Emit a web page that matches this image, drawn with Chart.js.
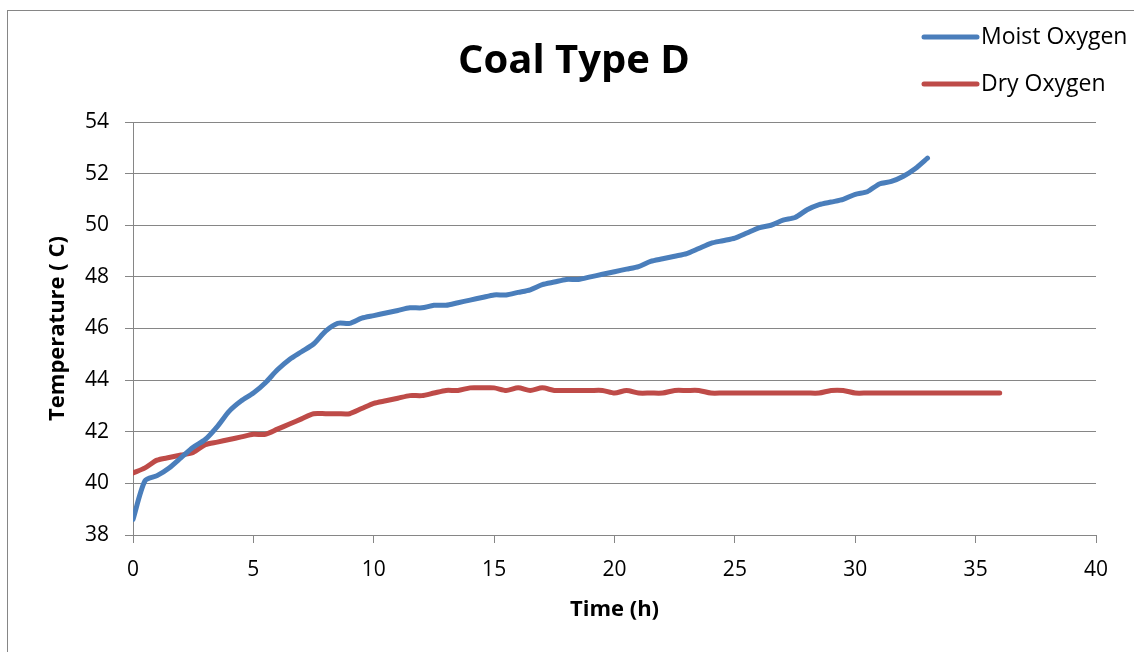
<!DOCTYPE html>
<html>
<head>
<meta charset="utf-8">
<script src="https://cdn.jsdelivr.net/npm/chart.js@4"></script>
<style>
  html, body { margin: 0; padding: 0; background: #fff; }
  #wrap { position: relative; width: 1134px; height: 652px; }
</style>
</head>
<body>
<div id="wrap"><canvas id="c" width="1134" height="652"></canvas></div>
<script>
const chartTitle = "Coal Type D";
const xAxisTitle = "Time (h)";
const yAxisTitle = "Temperature ( C)";
const seriesNames = ["Moist Oxygen", "Dry Oxygen"];

const timeMoist = [0,0.5,1,1.5,2,2.5,3,3.5,4,4.5,5,5.5,6,6.5,7,7.5,8,8.5,9,9.5,
  10,10.5,11,11.5,12,12.5,13,13.5,14,14.5,15,15.5,16,16.5,17,17.5,18,18.5,19,19.5,
  20,20.5,21,21.5,22,22.5,23,23.5,24,24.5,25,25.5,26,26.5,27,27.5,28,28.5,29,29.5,
  30,30.5,31,31.5,32,32.5,33];
const moistOxygen = [38.6,40.1,40.3,40.6,41.0,41.4,41.7,42.2,42.8,43.2,43.5,43.9,44.4,44.8,45.1,45.4,45.9,46.2,46.2,46.4,
  46.5,46.6,46.7,46.8,46.8,46.9,46.9,47.0,47.1,47.2,47.3,47.3,47.4,47.5,47.7,47.8,47.9,47.9,48.0,48.1,
  48.2,48.3,48.4,48.6,48.7,48.8,48.9,49.1,49.3,49.4,49.5,49.7,49.9,50.0,50.2,50.3,50.6,50.8,50.9,51.0,
  51.2,51.3,51.6,51.7,51.9,52.2,52.6];

const timeDry = [0,0.5,1,1.5,2,2.5,3,3.5,4,4.5,5,5.5,6,6.5,7,7.5,8,8.5,9,9.5,
  10,10.5,11,11.5,12,12.5,13,13.5,14,14.5,15,15.5,16,16.5,17,17.5,18,18.5,19,19.5,
  20,20.5,21,21.5,22,22.5,23,23.5,24,24.5,25,25.5,26,26.5,27,27.5,28,28.5,29,29.5,
  30,30.5,31,31.5,32,32.5,33,33.5,34,34.5,35,35.5,36];
const dryOxygen = [40.4,40.6,40.9,41.0,41.1,41.2,41.5,41.6,41.7,41.8,41.9,41.9,42.1,42.3,42.5,42.7,42.7,42.7,42.7,42.9,
  43.1,43.2,43.3,43.4,43.4,43.5,43.6,43.6,43.7,43.7,43.7,43.6,43.7,43.6,43.7,43.6,43.6,43.6,43.6,43.6,
  43.5,43.6,43.5,43.5,43.5,43.6,43.6,43.6,43.5,43.5,43.5,43.5,43.5,43.5,43.5,43.5,43.5,43.5,43.6,43.6,
  43.5,43.5,43.5,43.5,43.5,43.5,43.5,43.5,43.5,43.5,43.5,43.5,43.5];

const xTicks = [0,5,10,15,20,25,30,35,40];
const yTicks = [38,40,42,44,46,48,50,52,54];

const FONT = "'Open Sans', 'Liberation Sans', sans-serif";
const GRAY = "#868686";
const colors = ["#4A7EBB", "#BE4B48"];

const toPts = (xs, ys) => xs.map((x, i) => ({ x: x, y: ys[i] }));

const frameAndOverlay = {
  id: 'frameAndOverlay',
  beforeDraw(chart) {
    const ctx = chart.ctx;
    ctx.save();
    ctx.fillStyle = '#fff';
    ctx.fillRect(0, 0, chart.width, chart.height);
    ctx.strokeStyle = GRAY;
    ctx.lineWidth = 1;
    ctx.strokeRect(7.5, 10.5, 1300, 800);
    ctx.restore();
  },
  afterDraw(chart) {
    const ctx = chart.ctx;
    ctx.save();
    ctx.fillStyle = '#000';
    ctx.font = "bold 40px " + FONT;
    ctx.textAlign = 'center';
    ctx.textBaseline = 'middle';
    ctx.fillText(chartTitle, 574, 62);
    const rows = [37, 84];
    chart.data.datasets.forEach((ds, i) => {
      const y = rows[i];
      ctx.strokeStyle = ds.borderColor;
      ctx.lineWidth = 5;
      ctx.lineCap = 'round';
      ctx.beginPath();
      ctx.moveTo(924, y);
      ctx.lineTo(977, y);
      ctx.stroke();
      ctx.fillStyle = '#000';
      ctx.font = "23px " + FONT;
      ctx.textAlign = 'left';
      ctx.textBaseline = 'middle';
      ctx.fillText(ds.label, 981, y);
    });
    ctx.restore();
  }
};

new Chart(document.getElementById('c'), {
  type: 'line',
  data: {
    datasets: [
      { label: seriesNames[0], data: toPts(timeMoist, moistOxygen), borderColor: colors[0], backgroundColor: colors[0],
        borderWidth: 5, pointRadius: 0, tension: 0.25, borderCapStyle: 'round', borderJoinStyle: 'round', fill: false },
      { label: seriesNames[1], data: toPts(timeDry, dryOxygen), borderColor: colors[1], backgroundColor: colors[1],
        borderWidth: 5, pointRadius: 0, tension: 0.25, borderCapStyle: 'round', borderJoinStyle: 'round', fill: false }
    ]
  },
  options: {
    responsive: false,
    animation: false,
    events: [],
    layout: { padding: { left: 0, right: 38, top: 122, bottom: 0 } },
    plugins: { legend: { display: false }, title: { display: false }, tooltip: { enabled: false } },
    scales: {
      x: {
        type: 'linear', min: 0, max: 40,
        afterBuildTicks: (s) => { s.ticks = xTicks.map(v => ({ value: v })); },
        afterFit: (s) => { s.height = 117; },
        grid: { drawOnChartArea: false, drawTicks: true, tickLength: 8, color: GRAY, lineWidth: 1 },
        border: { color: GRAY, width: 1 },
        ticks: { color: '#000', font: { family: FONT, size: 21 }, padding: 14, maxRotation: 0 },
        title: { display: true, text: xAxisTitle, color: '#000', font: { family: FONT, size: 22, weight: 'bold' }, padding: { top: 0, bottom: 29 } }
      },
      y: {
        type: 'linear', min: 38, max: 54,
        afterBuildTicks: (s) => { s.ticks = yTicks.map(v => ({ value: v })); },
        afterFit: (s) => { s.width = 133; },
        grid: { drawOnChartArea: true, drawTicks: true, tickLength: 8, color: GRAY, lineWidth: 1 },
        border: { color: GRAY, width: 1 },
        ticks: { color: '#000', font: { family: FONT, size: 21 }, padding: 16 },
        title: { display: true, text: yAxisTitle, color: '#000', font: { family: FONT, size: 22, weight: 'bold' }, padding: { top: 45, bottom: 0 } }
      }
    }
  },
  plugins: [frameAndOverlay]
});
</script>
</body>
</html>
